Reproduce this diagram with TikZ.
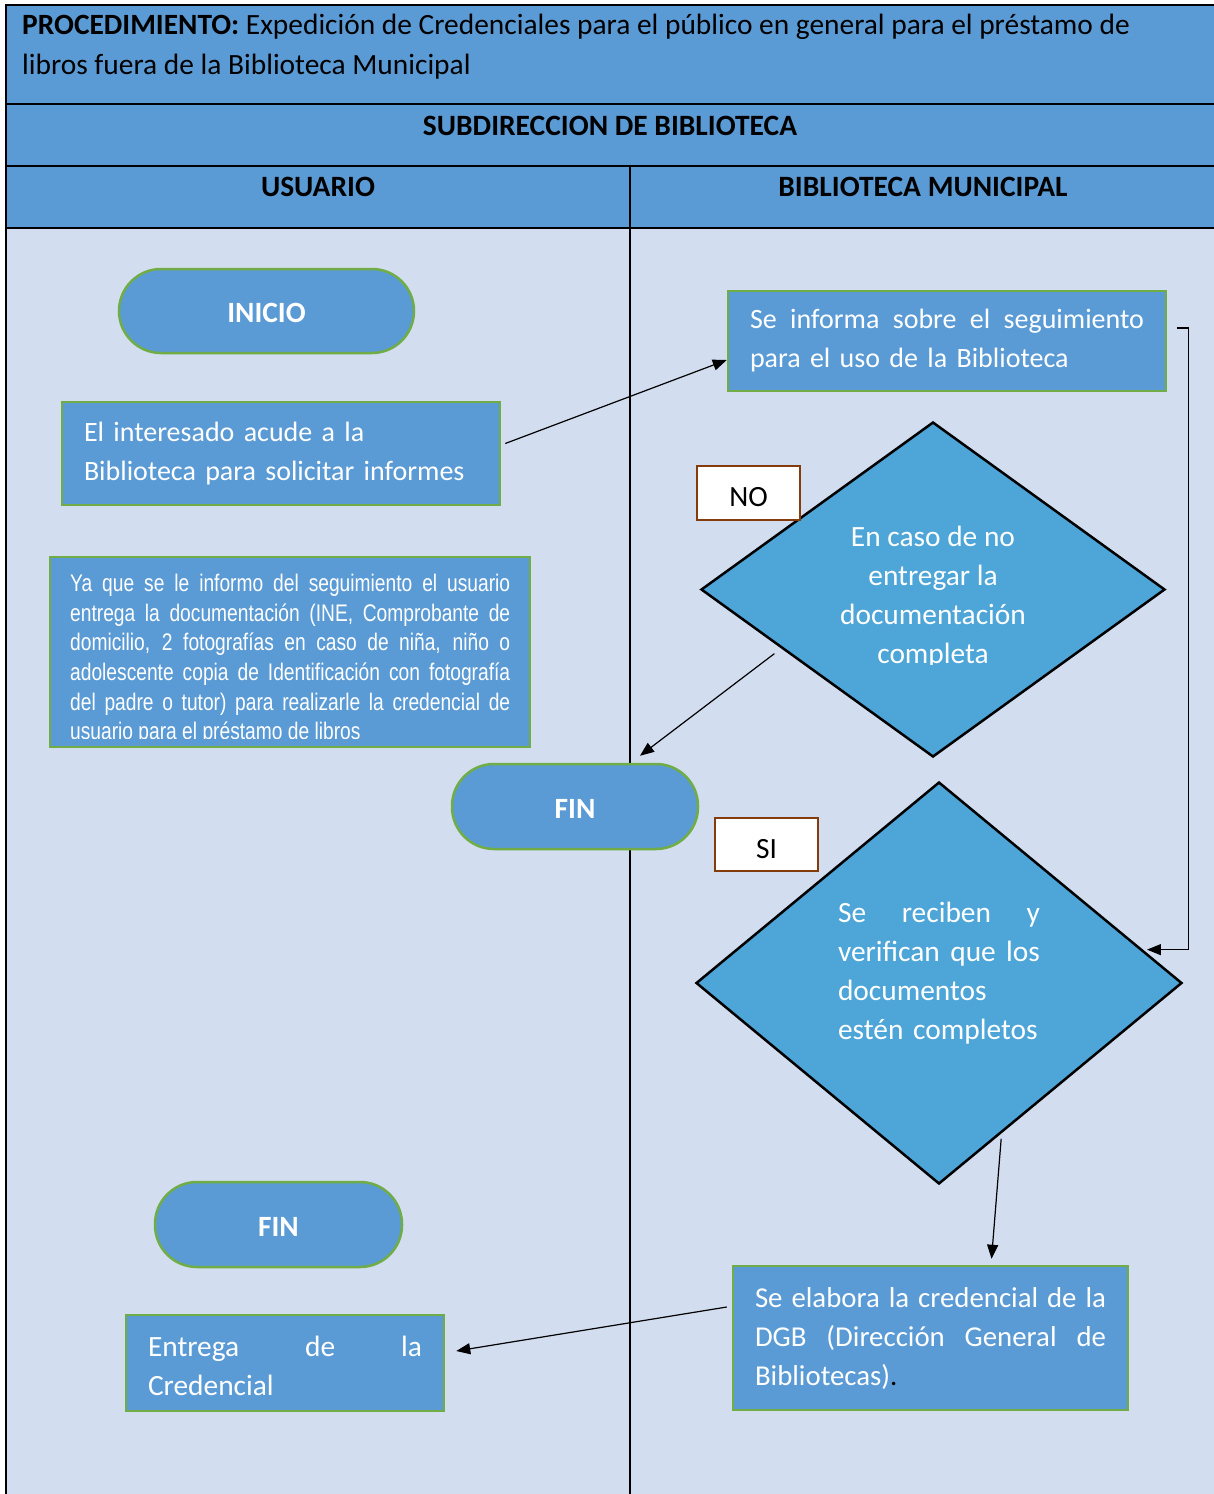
\documentclass[tikz,border=0pt]{standalone}
\usepackage{fontspec}
\setmainfont{Carlito}
\newfontfamily\narrowfont[FakeStretch=0.8]{Liberation Sans}
\usetikzlibrary{shapes.geometric,arrows.meta,calc}
\definecolor{hdrblue}{HTML}{5B9BD5}
\definecolor{bodybg}{HTML}{D2DEEF}
\definecolor{boxgreen}{HTML}{70AD47}
\definecolor{dmdblue}{HTML}{4EA5D8}
\definecolor{lblbrown}{HTML}{843C0C}
\newcommand\spreadline[2]{\makebox[#1][s]{\spaceskip=\fontdimen2\font plus 1fil\relax #2}}
\begin{document}
\begin{tikzpicture}[x=1pt,y=-1pt,
  every node/.style={font=\fontsize{29.4}{39}\selectfont},
  frame/.style={line width=2pt},
  procbox/.style={draw=boxgreen, line width=2.5pt, fill=hdrblue, text=white, inner xsep=22pt, inner ysep=0pt, align=left},
  smallproc/.style={procbox, font=\fontsize{28}{39}\selectfont},
  termbox/.style={draw=boxgreen, line width=2.5pt, fill=hdrblue, text=white, rounded corners=42pt, text height=23pt, text depth=0pt, font=\fontsize{29.4}{39}\selectfont\bfseries},
  decision/.style={diamond, draw=black, line width=2.5pt, fill=dmdblue, aspect=1.4, inner sep=0pt},
  dtext/.style={text=white, inner sep=0pt},
  answer/.style={draw=lblbrown, line width=2.5pt, fill=white, minimum width=103pt, minimum height=54pt, inner sep=0pt, text height=27pt, text depth=0pt},
  headtxt/.style={font=\fontsize{29.5}{39}\selectfont\bfseries, inner sep=0pt},
  arr/.style={line width=1.2pt, -{Triangle[length=14pt,width=11pt]}}
]
\useasboundingbox (0,0) rectangle (1214,1494);
% background
\fill[hdrblue] (6,5) rectangle (1214,228);
\fill[bodybg] (6,228) rectangle (1214,1494);
\draw[frame] (6,1494) -- (6,5) -- (1214,5);
\draw[frame] (6,104) -- (1214,104);
\draw[frame] (6,166) -- (1214,166);
\draw[frame] (6,228) -- (1214,228);
\draw[frame] (630,166) -- (630,1494);
% header texts
\node[anchor=north west, align=left, inner sep=0pt, font=\fontsize{29.4}{40}\selectfont] (title) at (22,14)
  {\textbf{PROCEDIMIENTO:} Expedición de Credenciales para el público en general para el préstamo de\\libros fuera de la Biblioteca Municipal};
\node[headtxt] (sub) at (610,126) {SUBDIRECCION DE BIBLIOTECA};
\node[headtxt] (colA) at (318,187) {USUARIO};
\node[headtxt] (colB) at (923,187) {BIBLIOTECA MUNICIPAL};
% terminals
\node[termbox, minimum width=295pt, minimum height=84pt] (ini) at (266.5,311) {INICIO};
\node[termbox, minimum width=246pt, minimum height=85pt] (fin1) at (575,806.5) {FIN};
\node[termbox, minimum width=247pt, minimum height=85pt] (fin2) at (278.5,1224.5) {FIN};
% process boxes
\node[smallproc, minimum width=438pt, minimum height=103pt, text width=394pt] (b1) at (281,453.5)
  {El interesado acude a la\\Biblioteca para solicitar informes};
\node[smallproc, minimum width=438pt, minimum height=100pt, text width=394pt] (b3) at (947,341)
  {\spreadline{394pt}{Se informa sobre el seguimiento}\\para el uso de la Biblioteca};
\node[procbox, font=\fontsize{28.8}{39}\selectfont, minimum width=395pt, minimum height=144pt, text width=351pt] (b5) at (930.5,1338)
  {\spreadline{351pt}{Se elabora la credencial de la}\\\spreadline{351pt}{DGB (Dirección General de}\\Bibliotecas)\textcolor{black}{.}};
\node[procbox, minimum width=318pt, minimum height=96pt] (b4) at (285,1363) {};
\node[text=white, inner sep=0pt, align=left, text width=274pt] (b4t) at (285,1366)
  {\spreadline{274pt}{Entrega de la}\\Credencial};
\node[procbox, minimum width=480pt, minimum height=190pt] (b2) at (290,652) {};
\begin{scope}
\clip (b2.north west) rectangle ($(b2.south east)+(0,-10)$);
\node[anchor=north west, inner sep=0pt, text=white, align=left, font=\narrowfont\fontsize{24}{29.6}\selectfont] (b2t) at (70,574)
  {\spreadline{440pt}{Ya que se le informo del seguimiento el usuario}\\
   \spreadline{440pt}{entrega la documentación (INE, Comprobante de}\\
   \spreadline{440pt}{domicilio, 2 fotografías en caso de niña, niño o}\\
   \spreadline{440pt}{adolescente copia de Identificación con fotografía}\\
   \spreadline{440pt}{del padre o tutor) para realizarle la credencial de}\\
   usuario para el préstamo de libros};
\end{scope}
% decisions
\node[decision, minimum width=464pt, minimum height=335pt] (d1) at (933,589.5) {};
\begin{scope}
\clip ($(d1.west)+(0,-200)$) rectangle ($(d1.east)+(0,75)$);
\node[dtext, align=center] (d1t) at (933,597.5)
  {En caso de no\\entregar la\\documentación\\completa};
\end{scope}
\node[decision, minimum width=486pt, minimum height=402pt] (d2) at (939,983) {};
\node[dtext, align=left, text width=202pt] (d2t) at (939,973)
  {\spreadline{202pt}{Se reciben y}\\\spreadline{202pt}{verifican que los}\\documentos\\estén completos};
% answer labels
\node[answer] (no) at (748.5,493) {NO};
\node[answer, minimum height=53pt] (si) at (766.5,844.5) {SI};
% connectors
\draw[arr] ($(b1.east)+(4,-10)$) -- ($(b3.west)+(0,19)$);
\draw[arr] ($(b3.east)+(10,-13)$) -- ++(11,0) |- ($(d2.north)!0.835!(d2.east)+(4,0)$);
\draw[arr] ($(d1.west)!0.38!(d1.south)+(-14,0)$) -- ($(fin1.north)+(65,-7)$);
\draw[arr] ($(d2.south)!0.23!(d2.east)+(6,0)$) -- ($(b5.north)+(61,-6)$);
\draw[arr] ($(b5.west)+(-5,-31)$) -- ($(b4.east)+(11,-12)$);
\end{tikzpicture}
\end{document}
